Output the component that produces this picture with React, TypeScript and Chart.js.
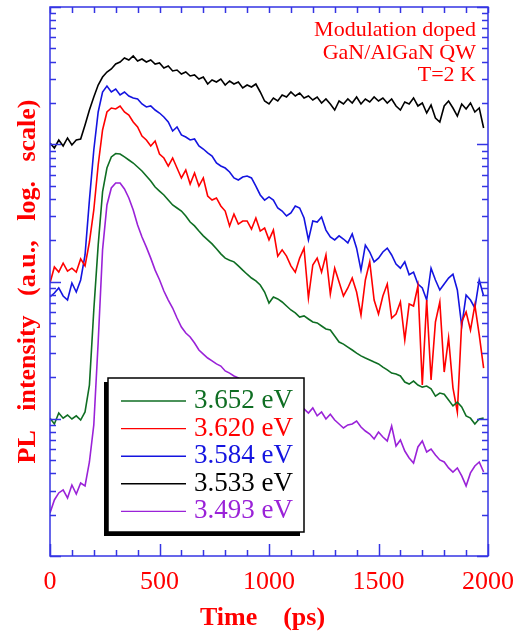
import React, { useEffect, useRef } from 'react';
import { Chart, registerables } from 'chart.js';

Chart.register(...registerables);

// Time axis (ps)
const timePs = [
  0, 20, 40, 60, 80, 100, 120, 140, 160, 180,
  200, 220, 240, 260, 280, 300, 320, 340, 360, 380,
  400, 420, 440, 460, 480, 500, 520, 540, 560, 580,
  600, 620, 640, 660, 680, 700, 720, 740, 760, 780,
  800, 820, 840, 860, 880, 900, 920, 940, 960, 980,
  1000, 1020, 1040, 1060, 1080, 1100, 1120, 1140, 1160, 1180,
  1200, 1220, 1240, 1260, 1280, 1300, 1320, 1340, 1360, 1380,
  1400, 1420, 1440, 1460, 1480, 1500, 1520, 1540, 1560, 1580,
  1600, 1620, 1640, 1660, 1680, 1700, 1720, 1740, 1760, 1780,
  1800, 1820, 1840, 1860, 1880, 1900, 1920, 1940, 1960, 1980,
];

// PL intensity (a.u.) for each detection energy
const green3652 = [
  10.1, 9.16, 11.0, 10.1, 10.65, 9.96, 10.5, 9.79, 11.2, 17.6,
  62.0, 184, 449, 671, 808, 856, 849, 808, 768, 730,
  683, 638, 587, 540, 488, 456, 427, 392, 361, 343,
  326, 300, 271, 254, 233, 215, 201, 188, 173, 159,
  148, 143, 139, 130, 121, 113, 106, 101, 94.3, 83.8,
  69.7, 77.1, 74.6, 70.9, 66.3, 62.0, 59.0, 55.1, 56.1, 53.3,
  50.7, 49.9, 47.4, 45.1, 44.3, 40.1, 36.2, 35.0, 33.3, 31.7,
  30.1, 28.7, 27.7, 26.8, 25.9, 25.1, 23.8, 22.7, 21.5, 21.2,
  20.5, 18.5, 17.9, 18.8, 17.6, 17.0, 17.3, 16.5, 14.6, 15.4,
  15.1, 13.7, 12.4, 13.2, 12.2, 10.5, 10.1, 9.16, 9.96, 10.1,
];

const red3620 = [
  97.5, 127.5, 117, 136, 119, 125, 117, 146, 130, 194,
  332, 706, 1270, 1718, 1837, 1807, 1900, 1718, 1634, 1452,
  1336, 1148, 1074, 971, 1056, 849, 794, 694, 794, 671,
  568, 649, 513, 617, 496, 568, 420, 392, 406, 355,
  326, 254, 310, 262, 276, 276, 241, 290, 233, 245,
  201, 237, 153, 170, 153, 130, 117, 148, 175, 75.8,
  132, 148, 117, 156, 81.1, 125, 99.2, 78.4, 89.7, 106,
  83.8, 57.0, 102.6, 139, 73.3, 58.0, 78.4, 95.9, 54.2, 58.0,
  70.9, 37.5, 68.6, 66.3, 92.7, 17.6, 73.3, 19.2, 50.7, 70.9,
  21.9, 38.8, 16.8, 11.2, 50.7, 60.0, 44.3, 67.4, 40.8, 23.4,
];

const blue3584 = [
  77.1, 82.4, 89.7, 78.4, 73.3, 97.5, 83.8, 102.6, 156, 392,
  908, 1718, 2403, 2657, 2403, 2527, 2285, 2403, 2247, 2173,
  2137, 1965, 1868, 1900, 1776, 1689, 1580, 1452, 1249, 1336,
  1168, 1129, 1074, 1092, 971, 923, 864, 821, 730, 694,
  671, 628, 568, 549, 577, 587, 568, 496, 427, 392,
  413, 392, 343, 326, 300, 316, 355, 343, 290, 201,
  276, 271, 295, 237, 211, 201, 215, 204, 191, 222,
  175, 121, 184, 164, 139, 148, 164, 175, 156, 134,
  125, 139, 112, 117, 95.9, 89.7, 73.3, 125, 102.6, 86.7,
  95.9, 106, 113, 86.7, 47.4, 79.7, 73.3, 64.1, 102.6, 78.4,
];

const black3533 = [
  1021, 939, 1074, 971, 1111, 988, 1074, 1092, 1381, 1776,
  2209, 2702, 3090, 3361, 3534, 3843, 3974, 4250, 4110, 4395,
  4042, 4180, 3974, 4110, 3843, 3908, 3594, 3717, 3418, 3475,
  3250, 3361, 3143, 3196, 2988, 3090, 2748, 2939, 2842, 2988,
  2702, 2890, 2748, 2842, 2570, 2702, 2613, 2748, 2403, 2066,
  1965, 2173, 2066, 2285, 2209, 2403, 2247, 2363, 2173, 2247,
  2101, 2209, 1998, 2137, 1965, 1776, 2066, 1965, 2137, 1998,
  2209, 1965, 2137, 2032, 2209, 2066, 2173, 1998, 2137, 1900,
  1776, 2032, 1965, 2173, 1900, 1998, 1689, 1932, 1553, 1452,
  1900, 2066, 1837, 1606, 1965, 1807, 1998, 1718, 1837, 1313,
];

const purple3493 = [
  2.06, 2.56, 2.88, 3.03, 2.65, 3.29, 2.83, 3.40, 3.24, 4.84,
  9.01, 36.2, 170, 361, 480, 522, 522, 472, 406, 332,
  258, 211, 178, 148, 121, 103, 85.3, 73.3, 64.1, 54.2,
  46.6, 42.1, 39.4, 35.6, 31.7, 29.6, 27.7, 26.4, 25.1, 24.2,
  22.3, 21.5, 20.5, 19.8, 18.5, 17.6, 17.0, 16.5, 15.7, 15.1,
  14.6, 14.2, 13.5, 13.0, 12.6, 12.2, 12.0, 11.6, 11.8, 11.0,
  12.0, 10.5, 11.2, 9.96, 10.8, 9.79, 9.16, 8.56, 9.01, 9.16,
  9.63, 8.71, 8.14, 7.74, 7.12, 8.01, 7.36, 6.89, 8.86, 6.33,
  7.00, 5.82, 5.18, 4.76, 6.23, 6.89, 5.73, 6.02, 5.44, 5.01,
  4.84, 4.38, 4.09, 4.38, 3.83, 3.24, 4.03, 4.53, 4.84, 4.09,
];

const seriesLabels = ['3.652 eV', '3.620 eV', '3.584 eV', '3.533 eV', '3.493 eV'];
const seriesColors = ['#0f6e23', '#ff0000', '#1414e0', '#000000', '#9a22d8'];
const xMajorTicks = [0, 500, 1000, 1500, 2000];
const xTickLabels = ['0', '500', '1000', '1500', '2000'];
const noteLines = ['Modulation doped', 'GaN/AlGaN QW', 'T=2 K'];

const SERIF = "'Liberation Serif', 'DejaVu Serif', serif";
const AXIS_COLOR = '#3434e4';
const RED = '#ff0000';

const decorPlugin = {
  id: 'decor',
  afterDatasetsDraw(chart: any) {
    const { ctx, chartArea: a, scales } = chart;
    const xs = scales.x;
    const ys = scales.y;
    ctx.save();

    // Frame + inward ticks
    ctx.strokeStyle = AXIS_COLOR;
    ctx.lineWidth = 1.5;
    ctx.beginPath();
    for (let t = 0; t <= 2000; t += 100) {
      const px = Math.round(xs.getPixelForValue(t)) + 0.5;
      const major = t % 500 === 0;
      ctx.moveTo(px, a.bottom);
      ctx.lineTo(px, a.bottom - (major ? 12 : 6));
      ctx.moveTo(px, a.top);
      ctx.lineTo(px, a.top + 6);
    }
    for (let e = 0; e <= 4; e++) {
      const base = Math.pow(10, e);
      for (let k = 1; k <= (e === 4 ? 1 : 9); k++) {
        const v = base * k;
        const py = Math.round(ys.getPixelForValue(v)) + 0.5;
        const len = k === 1 ? 11 : 6;
        ctx.moveTo(a.left, py);
        ctx.lineTo(a.left + len, py);
        ctx.moveTo(a.right, py);
        ctx.lineTo(a.right - len, py);
      }
    }
    ctx.stroke();
    ctx.strokeRect(a.left, a.top, a.right - a.left, a.bottom - a.top);

    // Legend box with shadow
    const bx = a.left + 58;
    const by = a.top + 371;
    const bw = 196;
    const bh = 154;
    ctx.fillStyle = '#000';
    ctx.fillRect(bx - 4, by + 4, bw, bh);
    ctx.fillStyle = '#fff';
    ctx.fillRect(bx, by, bw, bh);
    ctx.strokeStyle = '#000';
    ctx.lineWidth = 1.5;
    ctx.strokeRect(bx, by, bw, bh);

    ctx.font = `27px ${SERIF}`;
    ctx.textAlign = 'left';
    ctx.textBaseline = 'middle';
    seriesLabels.forEach((lab, i) => {
      const cy = by + 23 + i * 27.6;
      ctx.strokeStyle = seriesColors[i];
      ctx.lineWidth = 1.4;
      ctx.beginPath();
      ctx.moveTo(bx + 13, cy);
      ctx.lineTo(bx + 78, cy);
      ctx.stroke();
      ctx.fillStyle = seriesColors[i];
      ctx.fillText(lab, bx + 86, cy);
    });

    // Annotation
    ctx.fillStyle = RED;
    ctx.font = `22px ${SERIF}`;
    ctx.textAlign = 'right';
    ctx.textBaseline = 'alphabetic';
    noteLines.forEach((ln, i) => {
      ctx.fillText(ln, a.right - 12, a.top + 29 + i * 22.5);
    });

    ctx.restore();
  },
};

export default function App() {
  const ref = useRef<HTMLCanvasElement>(null);

  useEffect(() => {
    const canvas = ref.current;
    if (!canvas) return;
    const seriesValues = [green3652, red3620, blue3584, black3533, purple3493];
    const chart = new Chart(canvas, {
      type: 'line',
      data: {
        datasets: seriesValues.map((vals, i) => ({
          label: seriesLabels[i],
          data: vals.map((v, k) => ({ x: timePs[k], y: v })),
          borderColor: seriesColors[i],
          backgroundColor: seriesColors[i],
          borderWidth: 1.6,
          pointRadius: 0,
          tension: 0,
          fill: false,
        })),
      },
      options: {
        animation: false,
        responsive: false,
        devicePixelRatio: 1,
        layout: { padding: { top: 7, right: 29, bottom: 0, left: 0 } },
        plugins: {
          legend: { display: false },
          tooltip: { enabled: false },
        },
        scales: {
          x: {
            type: 'linear',
            min: 0,
            max: 2000,
            afterFit: (s: any) => {
              s.height = 78;
              s.paddingLeft = 0;
              s.paddingRight = 0;
            },
            afterBuildTicks: (s: any) => {
              s.ticks = xMajorTicks.map((v) => ({ value: v }));
            },
            grid: { display: false, drawTicks: false },
            border: { display: false },
            ticks: {
              padding: 11,
              color: RED,
              maxRotation: 0,
              autoSkip: false,
              font: { family: SERIF, size: 26 },
              callback: (v: any) => {
                const idx = xMajorTicks.indexOf(Number(v));
                return idx >= 0 ? xTickLabels[idx] : '';
              },
            },
            title: {
              display: true,
              text: 'Time    (ps)  ',
              color: RED,
              font: { family: SERIF, size: 26, weight: 'bold' },
              padding: { top: 0, bottom: 0 },
            },
          },
          y: {
            type: 'logarithmic',
            min: 1,
            max: 10000,
            afterFit: (s: any) => {
              s.width = 50;
              s.paddingTop = 0;
              s.paddingBottom = 0;
            },
            grid: { display: false, drawTicks: false },
            border: { display: false },
            ticks: { display: false },
            title: {
              display: true,
              text: 'PL   intensity   (a.u.,   log.   scale)',
              color: RED,
              font: { family: SERIF, size: 26, weight: 'bold' },
              padding: { top: 13, bottom: 0 },
            },
          },
        },
      } as any,
      plugins: [decorPlugin],
    });
    return () => chart.destroy();
  }, []);

  return (
    <div style={{ position: 'absolute', left: 0, top: 0, width: 517, height: 634, background: '#fff' }}>
      <canvas ref={ref} width={517} height={634} style={{ display: 'block', width: 517, height: 634 }} />
    </div>
  );
}
